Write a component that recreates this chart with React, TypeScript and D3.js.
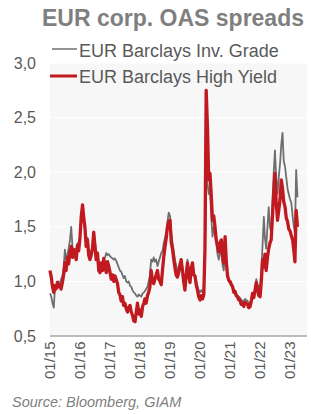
import React from "react";
import * as d3 from "d3";

// Semi-monthly observations (1st and 16th of each month), Jan 2015 – Apr 2023
const startYear = 2015;

const hySpreads: number[] = [
  // 2015
  1.10, 1.04, 0.95, 0.90, 0.96, 0.93, 0.99, 0.95, 0.97, 0.93, 0.99, 1.06,
  1.17, 1.10, 1.22, 1.16, 1.27, 1.32, 1.22, 1.29, 1.24, 1.20, 1.33, 1.28,
  // 2016
  1.40, 1.59, 1.70, 1.58, 1.50, 1.32, 1.38, 1.24, 1.20, 1.24, 1.30, 1.45,
  1.33, 1.20, 1.26, 1.10, 1.08, 1.17, 1.10, 1.21, 1.13, 1.08, 1.18, 1.14,
  // 2017
  1.08, 1.02, 1.06, 1.00, 1.05, 1.02, 0.98, 0.90, 0.88, 0.82, 0.86, 0.78,
  0.80, 0.75, 0.72, 0.76, 0.78, 0.72, 0.69, 0.64, 0.63, 0.72, 0.80, 0.70,
  // 2018
  0.74, 0.68, 0.77, 0.80, 0.84, 0.80, 0.87, 0.90, 0.95, 1.10, 1.01, 0.98,
  1.02, 1.06, 1.10, 1.02, 1.00, 0.97, 1.10, 1.22, 1.32, 1.40, 1.50, 1.55,
  // 2019
  1.56, 1.36, 1.29, 1.20, 1.13, 1.06, 1.04, 1.08, 1.15, 1.20, 1.10, 1.00,
  0.92, 1.05, 1.17, 1.06, 0.99, 1.12, 1.17, 1.06, 1.05, 0.97, 0.92, 0.86,
  // 2020
  0.83, 0.87, 0.84, 0.88, 1.30, 2.75, 2.40, 1.93, 1.99, 1.80, 1.56, 1.60,
  1.50, 1.38, 1.33, 1.27, 1.35, 1.38, 1.23, 1.17, 1.41, 1.18, 1.05, 1.01,
  // 2021
  1.00, 0.97, 0.95, 0.90, 0.91, 0.87, 0.86, 0.83, 0.83, 0.79, 0.80, 0.77,
  0.81, 0.80, 0.79, 0.76, 0.77, 0.82, 0.89, 0.85, 0.92, 0.99, 0.93, 0.87,
  // 2022
  0.86, 1.00, 1.20, 1.13, 1.25, 1.10, 1.22, 1.30, 1.35, 1.38, 1.60, 1.80,
  1.99, 1.73, 1.56, 1.65, 1.75, 1.93, 1.85, 1.73, 1.68, 1.58, 1.55, 1.48,
  // 2023
  1.46, 1.42, 1.38, 1.28, 1.18, 1.65, 1.50,
];

const igSpreads: number[] = [
  // 2015
  0.89, 0.86, 0.80, 0.76, 0.92, 0.97, 0.95, 1.00, 0.96, 1.02, 1.05, 1.12,
  1.29, 1.20, 1.25, 1.30, 1.38, 1.50, 1.32, 1.27, 1.30, 1.25, 1.35, 1.32,
  // 2016
  1.42, 1.55, 1.65, 1.58, 1.50, 1.36, 1.40, 1.30, 1.25, 1.27, 1.32, 1.45,
  1.35, 1.25, 1.26, 1.18, 1.12, 1.16, 1.15, 1.20, 1.22, 1.26, 1.24, 1.25,
  // 2017
  1.23, 1.22, 1.21, 1.20, 1.21, 1.19, 1.16, 1.13, 1.10, 1.09, 1.06, 1.03,
  1.05, 1.00, 0.99, 1.00, 0.96, 0.95, 0.92, 0.90, 0.89, 0.87, 0.86, 0.88,
  // 2018
  0.87, 0.86, 0.89, 0.90, 0.91, 0.93, 0.95, 1.00, 1.05, 1.20, 1.18, 1.22,
  1.18, 1.20, 1.14, 1.18, 1.22, 1.26, 1.28, 1.35, 1.40, 1.45, 1.55, 1.63,
  // 2019
  1.60, 1.45, 1.35, 1.28, 1.20, 1.15, 1.10, 1.12, 1.15, 1.18, 1.12, 1.05,
  0.98, 1.08, 1.20, 1.12, 1.05, 1.10, 1.12, 1.05, 1.05, 1.00, 0.95, 0.92,
  // 2020
  0.90, 0.92, 0.90, 0.93, 1.25, 1.95, 1.90, 1.80, 1.85, 1.60, 1.41, 1.50,
  1.45, 1.35, 1.25, 1.20, 1.26, 1.28, 1.15, 1.10, 1.30, 1.15, 1.05, 1.00,
  // 2021
  0.98, 0.97, 0.94, 0.92, 0.91, 0.89, 0.87, 0.86, 0.85, 0.83, 0.82, 0.82,
  0.84, 0.83, 0.82, 0.80, 0.80, 0.84, 0.88, 0.87, 0.92, 1.02, 0.97, 0.95,
  // 2022
  0.95, 1.10, 1.35, 1.59, 1.40, 1.30, 1.50, 1.68, 1.50, 1.45, 1.75, 2.00,
  2.20, 1.95, 1.80, 1.95, 2.08, 2.25, 2.36, 2.10, 2.05, 1.95, 1.85, 1.80,
  // 2023
  1.75, 1.72, 1.60, 1.50, 1.44, 2.02, 1.77,
];

const yTicks: number[] = [0.5, 1.0, 1.5, 2.0, 2.5, 3.0];
const xTickYears: number[] = [2015, 2016, 2017, 2018, 2019, 2020, 2021, 2022, 2023];
const seriesNames: string[] = ["EUR Barclays Inv. Grade", "EUR Barclays High Yield"];

const dates: Date[] = hySpreads.map(
  (_, i) => new Date(startYear, Math.floor(i / 2), i % 2 === 0 ? 1 : 16)
);

const W = 311;
const H = 414;
const plot = { left: 50, right: 307, top: 63, bottom: 336 };
const FONT = "'Liberation Sans', Arial, sans-serif";
const RED = "#c0191f";
const GREY = "#6f6f6f";

export default function App() {
  const x = d3
    .scaleTime()
    .domain([new Date(2015, 0, 1), new Date(2023, 6, 26)])
    .range([plot.left, plot.right]);
  const y = d3.scaleLinear().domain([0.5, 3.0]).range([plot.bottom, plot.top]);

  const line = d3
    .line<number>()
    .x((_, i) => x(dates[i]))
    .y((d) => y(d));

  const fmt = (v: number) => d3.format(".1f")(v).replace(".", ",");
  const fmtDate = d3.timeFormat("%m/%y");

  return (
    <svg
      width={W}
      height={H}
      style={{ position: "absolute", left: 0, top: 0, background: "#fff" }}
      fontFamily={FONT}
    >
      <rect x={0} y={0} width={W} height={H} fill="#fff" />
      <text
        x={173}
        y={26}
        textAnchor="middle"
        fontSize={23}
        fontWeight="bold"
        fill="#7f7f7f"
      >
        EUR corp. OAS spreads
      </text>

      <rect
        x={plot.left}
        y={plot.top}
        width={plot.right - plot.left}
        height={plot.bottom - plot.top}
        fill="#f7f7f7"
      />
      {yTicks.slice(1).map((t) => (
        <line
          key={t}
          x1={plot.left}
          x2={plot.right}
          y1={y(t)}
          y2={y(t)}
          stroke="#ffffff"
          strokeWidth={1}
        />
      ))}
      {yTicks.map((t) => (
        <text
          key={t}
          x={36}
          y={y(t)}
          dy="0.35em"
          textAnchor="end"
          fontSize={16}
          fill="#595959"
        >
          {fmt(t)}
        </text>
      ))}

      <path
        d={line(igSpreads) || ""}
        fill="none"
        stroke={GREY}
        strokeWidth={1.8}
        strokeLinejoin="round"
      />
      <path
        d={line(hySpreads) || ""}
        fill="none"
        stroke={RED}
        strokeWidth={3.3}
        strokeLinejoin="round"
      />

      <line
        x1={plot.left}
        x2={plot.right}
        y1={plot.bottom}
        y2={plot.bottom}
        stroke="#a6a6a6"
        strokeWidth={1.5}
      />
      {xTickYears.map((yr) => {
        const d = new Date(yr, 0, 1);
        return (
          <text
            key={yr}
            transform={`translate(${x(d)},${plot.bottom + 5.5}) rotate(-90)`}
            dy="0.35em"
            textAnchor="end"
            fontSize={15}
            fill="#595959"
          >
            {fmtDate(d)}
          </text>
        );
      })}

      {/* legend */}
      <line x1={52} x2={77} y1={49} y2={49} stroke={GREY} strokeWidth={1.5} />
      <text x={79} y={56.5} fontSize={18} fill="#595959">
        {seriesNames[0]}
      </text>
      <line x1={50} x2={77} y1={76} y2={76} stroke={RED} strokeWidth={3} />
      <text x={79} y={83} fontSize={18} fill="#595959">
        {seriesNames[1]}
      </text>

      <text
        x={12}
        y={407}
        fontSize={14.5}
        fontStyle="italic"
        fill="#7f7f7f"
      >
        Source: Bloomberg, GIAM
      </text>
    </svg>
  );
}
